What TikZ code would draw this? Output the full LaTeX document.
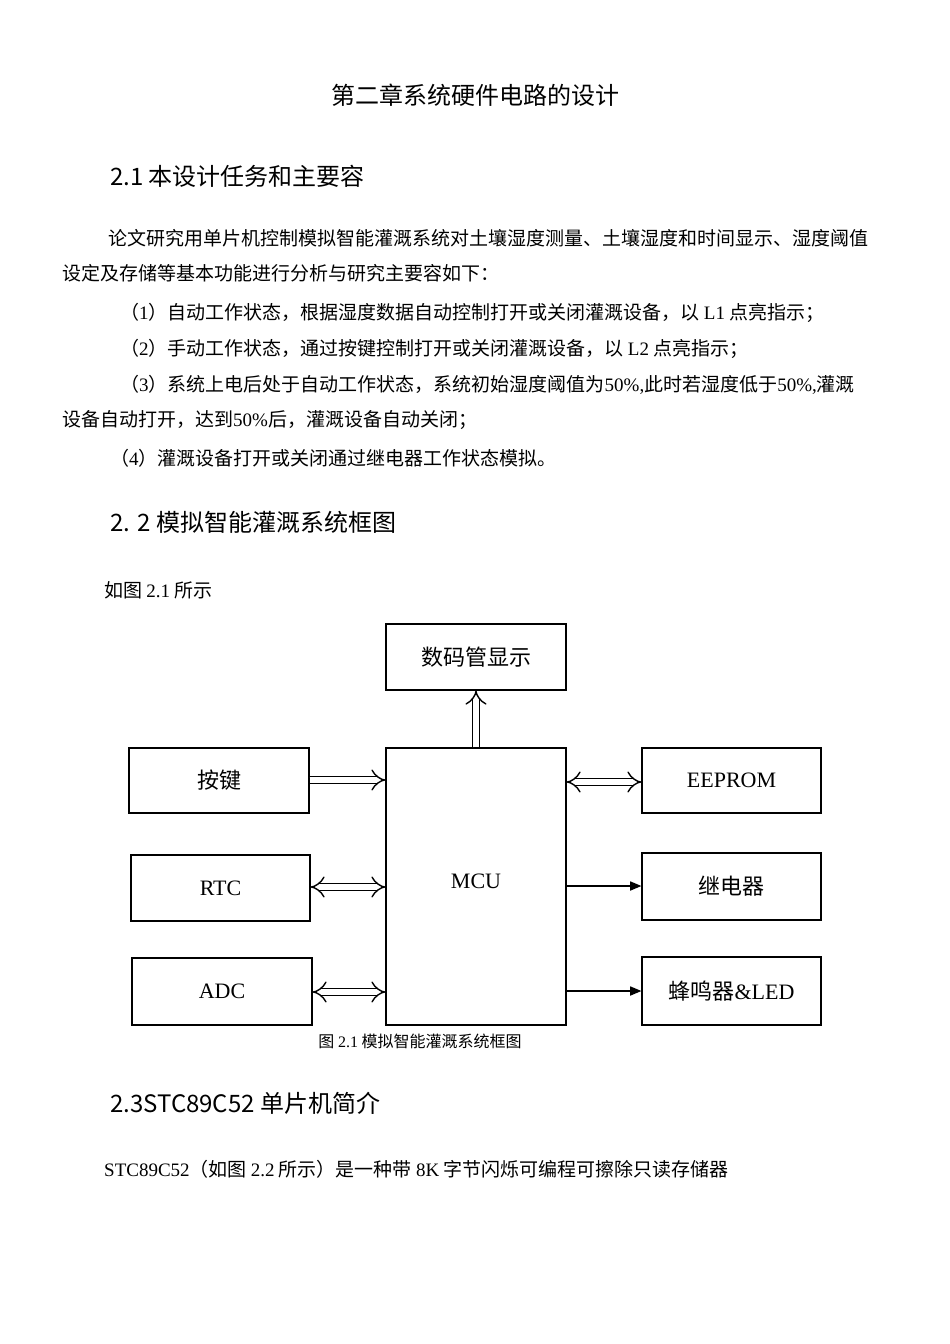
\documentclass[tikz,border=0pt]{standalone}
\usepackage{fontspec}
\setmainfont{Noto Sans CJK SC}
\newfontfamily\tnr{Liberation Serif}
\newcommand\tn[1]{{\tnr #1}}
\usetikzlibrary{arrows}
\begin{document}
\begin{tikzpicture}[x=1pt,y=-1pt,
  txt/.style={anchor=west,inner sep=0pt,font=\fontsize{19}{22}\selectfont},
  hd/.style={anchor=west,inner sep=0pt,font=\fontsize{24}{28}\selectfont},
  blk/.style={draw,line width=1.3pt,inner sep=0pt,font=\fontsize{22}{26}\selectfont},
  hol/.style={double,double distance=6pt,line width=1.4pt,-implies},
  holb/.style={double,double distance=6pt,line width=1.4pt,implies-implies},
  sol/.style={line width=1.6pt,-triangle 45}]
\useasboundingbox[fill=white] (0,0) rectangle (950,1344);
\node[hd,anchor=center] (t0) at (475,95) {第二章系统硬件电路的设计};
\node[hd] (h1) at (110,176) {2.1 本设计任务和主要容};
\node[txt] (p1) at (108,238) {论文研究用单片机控制模拟智能灌溉系统对土壤湿度测量、土壤湿度和时间显示、湿度阈值};
\node[txt] (p2) at (62,273) {设定及存储等基本功能进行分析与研究主要容如下：};
\node[txt] (p3) at (120,313) {（\tn{1}）自动工作状态，根据湿度数据自动控制打开或关闭灌溉设备，以 \tn{L1} 点亮指示；};
\node[txt] (p4) at (120,349) {（\tn{2}）手动工作状态，通过按键控制打开或关闭灌溉设备，以 \tn{L2} 点亮指示；};
\node[txt] (p5) at (120,385) {（\tn{3}）系统上电后处于自动工作状态，系统初始湿度阈值为\tn{50\%,}此时若湿度低于\tn{50\%,}灌溉};
\node[txt] (p6) at (62,420) {设备自动打开，达到\tn{50\%}后，灌溉设备自动关闭；};
\node[txt] (p7) at (110,458) {（\tn{4}）灌溉设备打开或关闭通过继电器工作状态模拟。};
\node[hd] (h2) at (110,522) {2. 2 模拟智能灌溉系统框图};
\node[txt] (p8) at (104,590) {如图 \tn{2.1} 所示};
\node[blk,minimum width=180,minimum height=66] (disp) at (476,657) {数码管显示};
\node[blk,minimum width=180,minimum height=277] (mcu) at (476,886.5) {};
\node[font=\fontsize{22}{26}\selectfont\tnr] (mcul) at (476,881) {MCU};
\node[blk,minimum width=180,minimum height=65] (key) at (219,780.5) {按键};
\node[blk,minimum width=179,minimum height=66,font=\fontsize{22}{26}\selectfont\tnr] (rtc) at (220.5,888) {RTC};
\node[blk,minimum width=180,minimum height=67,font=\fontsize{22}{26}\selectfont\tnr] (adc) at (222,991.5) {ADC};
\node[blk,minimum width=179,minimum height=65,font=\fontsize{22}{26}\selectfont\tnr] (eep) at (731.5,780.5) {EEPROM};
\node[blk,minimum width=179,minimum height=67] (rel) at (731.5,886.5) {继电器};
\node[blk,minimum width=179,minimum height=68] (buz) at (731.5,991) {蜂鸣器\tn{\&LED}};
\draw[hol] (mcu.north) -- (disp.south);
\draw[hol] (key.east|-0,780) -- (mcu.west|-0,780);
\draw[holb] (rtc.east|-0,887) -- (mcu.west|-0,887);
\draw[holb] (adc.east|-0,992) -- (mcu.west|-0,992);
\draw[holb] (mcu.east|-0,782) -- (eep.west|-0,782);
\draw[sol] (mcu.east|-0,886) -- (rel.west|-0,886);
\draw[sol] (mcu.east|-0,991) -- (buz.west|-0,991);
\node[inner sep=0pt,font=\fontsize{16}{19}\selectfont] (cap) at (420,1041) {图 \tn{2.1} 模拟智能灌溉系统框图};
\node[hd] (h3) at (110,1103) {2.3STC89C52 单片机简介};
\node[txt] (p9) at (104,1169) {\tn{STC89C52}（如图 \tn{2.2} 所示）是一种带 \tn{8K} 字节闪烁可编程可擦除只读存储器};
\end{tikzpicture}
\end{document}
